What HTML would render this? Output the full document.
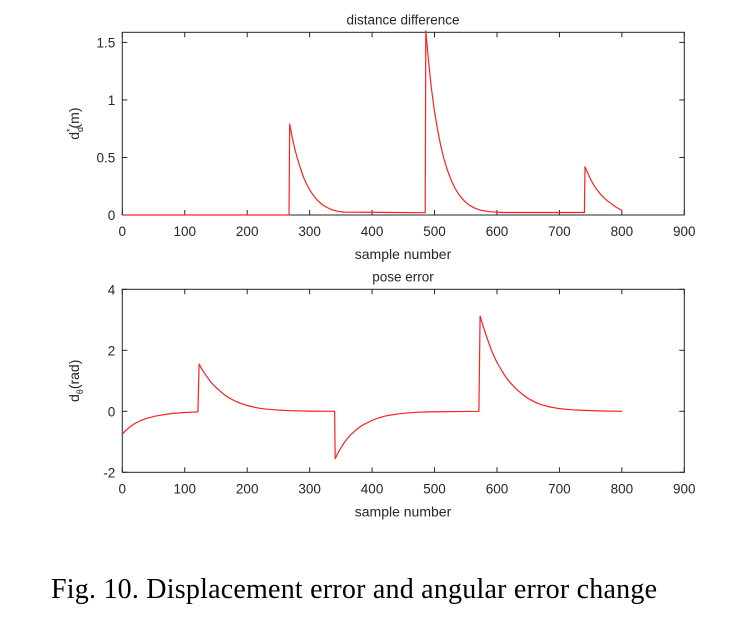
<!DOCTYPE html>
<html><head><meta charset="utf-8"><style>
body{margin:0;background:#fff;width:730px;height:632px;overflow:hidden}
svg text{font-family:"Liberation Sans",sans-serif;fill:#262626}
</style></head><body>
<svg id="c" width="730" height="632"></svg>
<script>
const xTicks=[0,100,200,300,400,500,600,700,800,900];
const topYTicks=[0,0.5,1,1.5];
const topYLabels=["0","0.5","1","1.5"];
const botYTicks=[-2,0,2,4];
const botYLabels=["-2","0","2","4"];
const topX=[0,267,268,272,276,280,285,290,295,300,306,312,320,328,336,345,355,485,486,490,495,500,505,510,515,520,526,532,540,548,556,565,575,590,610,740,741,745,750,755,760,766,772,780,790,800];
const topY=[0,0,0.79,0.68,0.58,0.5,0.41,0.33,0.27,0.22,0.17,0.13,0.09,0.065,0.045,0.032,0.025,0.02,1.6,1.36,1.1,0.9,0.74,0.6,0.49,0.4,0.31,0.24,0.17,0.12,0.085,0.058,0.04,0.028,0.022,0.022,0.42,0.37,0.31,0.26,0.22,0.18,0.145,0.11,0.07,0.04];
const botX=[0,5,10,15,20,25,30,38,45,52,60,70,80,90,100,110,121,123,128,135,142,150,158,165,172,180,190,200,210,220,232,245,258,270,300,340,341,345,350,355,360,367,375,382,390,400,410,420,430,445,460,475,490,571,573,578,585,592,600,608,615,622,630,640,650,660,670,685,700,720,740,770,800];
const botY=[-0.75,-0.64,-0.55,-0.47,-0.4,-0.35,-0.3,-0.24,-0.2,-0.16,-0.13,-0.1,-0.07,-0.055,-0.04,-0.03,-0.02,1.55,1.36,1.15,0.95,0.78,0.64,0.52,0.43,0.34,0.26,0.19,0.14,0.1,0.07,0.05,0.03,0.02,0.005,0,-1.55,-1.38,-1.2,-1.04,-0.9,-0.74,-0.6,-0.49,-0.4,-0.3,-0.22,-0.16,-0.12,-0.08,-0.05,-0.03,-0.02,0,3.12,2.78,2.35,1.95,1.6,1.32,1.1,0.92,0.75,0.57,0.42,0.31,0.22,0.14,0.09,0.05,0.03,0.01,0];

const svg=document.getElementById('c');
const NS='http://www.w3.org/2000/svg';
function mk(t,a,p){const e=document.createElementNS(NS,t);for(const k in a)e.setAttribute(k,a[k]);(p||svg).appendChild(e);return e;}
const L=122.3,R=684.3;
const xs=v=>L+(v-0)/900*(R-L);

function panel(name,T,B,ymin,ymax,yt,yl,X,Y,title,ylab){
  const g=mk('g',{});
  
  
  const ys=v=>B-(v-ymin)/(ymax-ymin)*(B-T);
  const box=mk('rect',{x:L,y:T,width:R-L,height:B-T,fill:'none',stroke:'#262626','stroke-width':1},g);
  
  
  xTicks.forEach(v=>{
    const x=xs(v);
    mk('line',{x1:x,x2:x,y1:B,y2:B-5,stroke:'#262626'},g);
    mk('line',{x1:x,x2:x,y1:T,y2:T+5,stroke:'#262626'},g);
    const t=mk('text',{x:x,y:B+21,'text-anchor':'middle','font-size':13.5},g);
    t.textContent=v;
    
    
  });
  yt.forEach((v,i)=>{
    const y=ys(v);
    mk('line',{x1:L,x2:L+5,y1:y,y2:y,stroke:'#262626'},g);
    mk('line',{x1:R,x2:R-5,y1:y,y2:y,stroke:'#262626'},g);
    const t=mk('text',{x:L-7,y:y+5,'text-anchor':'end','font-size':13.5},g);
    t.textContent=yl[i];
    
    
  });
  const pts=X.map((x,i)=>xs(x).toFixed(1)+','+ys(Y[i]).toFixed(1)).join(' ');
  const pl=mk('polyline',{points:pts,fill:'none',stroke:'#ff2020','stroke-width':1.2,'stroke-linejoin':'round'},g);
  
  
  const tt=mk('text',{x:403,y:T-8,'text-anchor':'middle','font-size':13.5},g);
  tt.textContent=title;
  
  
  const xl=mk('text',{x:403,y:B+44,'text-anchor':'middle','font-size':14},g);
  xl.textContent='sample number';
  
  
  const yc=(T+B)/2;
  const ylt=mk('text',{x:0,y:0,'text-anchor':'middle','font-size':14,transform:`translate(79,${yc}) rotate(-90)`},g);
  ylt.innerHTML=ylab;
  
  
}
panel('top-chart',32.3,215,0,1.588,topYTicks,topYLabels,topX,topY,'distance difference','d<tspan font-size="9" dy="4">d</tspan><tspan font-size="9" dy="-10" dx="-5">*</tspan><tspan dy="6">(m)</tspan>');
panel('bottom-chart',289.3,472.3,-2,4,botYTicks,botYLabels,botX,botY,'pose error','d<tspan font-size="9" dy="4">θ</tspan><tspan dy="-4">(rad)</tspan>');
const cap=mk('text',{x:51,y:598,'font-size':28,textLength:606,style:'font-family:"Liberation Serif",serif;fill:#000'});
cap.textContent='Fig. 10. Displacement error and angular error change';


</script>
</body></html>
